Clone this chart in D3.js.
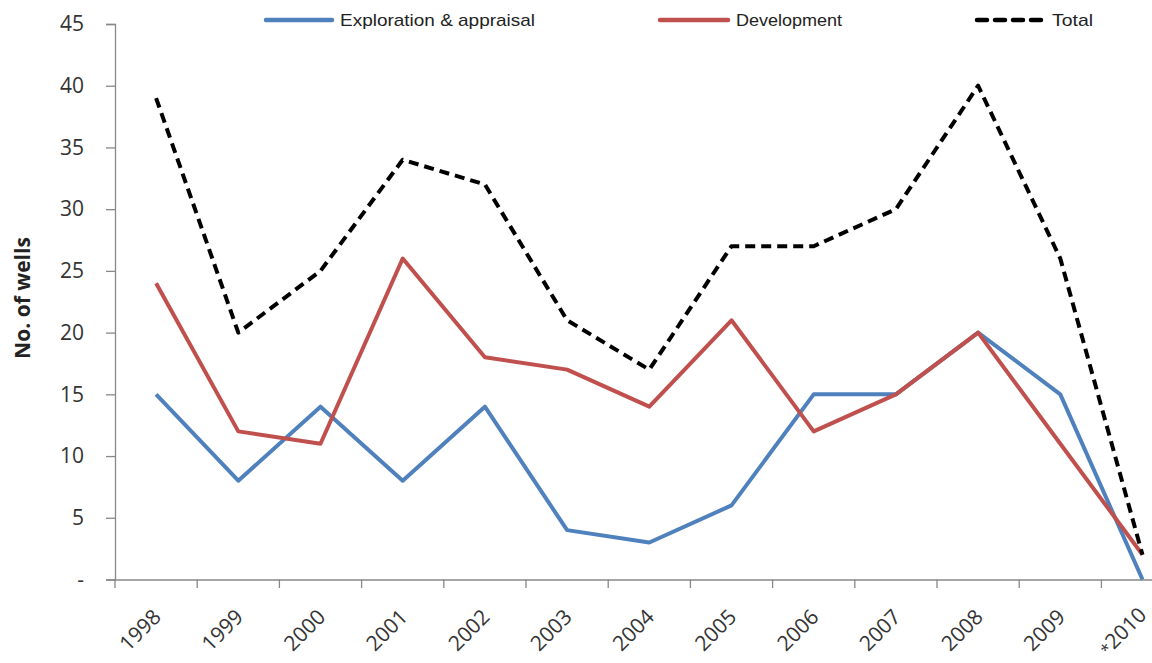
<!DOCTYPE html>
<html><head><meta charset="utf-8">
<script src="https://cdn.jsdelivr.net/npm/d3@7"></script>
<style>body{margin:0;background:#fff}svg{display:block}</style>
</head><body>
<script>
const years = ["1998","1999","2000","2001","2002","2003","2004","2005","2006","2007","2008","2009","*2010"];
const exploration = [15,8,14,8,14,4,3,6,15,15,20,15,0];
const development = [24,12,11,26,18,17,14,21,12,15,20,11,2];
const total = [39,20,25,34,32,21,17,27,27,30,40,26,2];
const yTicks = [0,5,10,15,20,25,30,35,40,45];
const seriesNames = ["Exploration & appraisal","Development","Total"];

const W = 1152, H = 663;
const svg = d3.select("body").append("svg").attr("width", W).attr("height", H);
const x = d3.scaleBand().domain(years).range([115, 115 + 82.2*13]);
const y = d3.scaleLinear().domain([0,45]).range([579.5, 24]);
const font = "'Open Sans', 'Liberation Sans', sans-serif";

// y axis
const ya = svg.append("g").attr("transform","translate(115,0)")
  .call(d3.axisLeft(y).tickValues(yTicks).tickSize(9).tickPadding(22)
    .tickFormat(d => d === 0 ? "-" : d));
ya.select(".domain").attr("stroke","#888").attr("stroke-width",1.3);
ya.selectAll(".tick line").attr("stroke","#888").attr("stroke-width",1.3);
ya.selectAll(".tick text").attr("font-family",font).attr("font-size",21).attr("fill","#333");

// x axis
const xa = svg.append("g").attr("transform","translate(0,579.5)")
  .call(d3.axisBottom(x).tickSize(0).tickFormat(""));
xa.select(".domain").attr("stroke","#888").attr("stroke-width",1.6);
// category boundary ticks
svg.append("g").selectAll("line").data(years).join("line")
  .attr("x1", d => x(d)).attr("x2", d => x(d))
  .attr("y1", 579.5).attr("y2", 588).attr("stroke","#888").attr("stroke-width",1.3);
const xl = svg.append("g").selectAll("text").data(years).join("text")
  .attr("transform", d => `translate(${x(d)+x.bandwidth()/2+(d.startsWith("*")?0:1)},${d.startsWith("*")?611:613}) rotate(-45)`)
  .attr("text-anchor","end").attr("dy","0.35em")
  .attr("font-family",font).attr("font-size",21).attr("fill","#333");
xl.each(function(d){
  const t = d3.select(this);
  if (d.startsWith("*")) {
    t.append("tspan").attr("font-size",16).text("*");
    t.append("tspan").text(d.slice(1));
  } else t.text(d);
});

// y title
svg.append("text").attr("transform","translate(30,298) rotate(-90)")
  .attr("text-anchor","middle").attr("font-family",font).attr("font-weight","bold")
  .attr("font-size",21).attr("fill","#222").text("No. of wells");

const line = d3.line().x((d,i) => x(years[i]) + x.bandwidth()/2).y(d => y(d));
const colors = ["#4F81BD","#C0504D","#000"];
const data = [exploration, development, total];
data.forEach((s,k) => {
  svg.append("path").datum(s).attr("d", line).attr("fill","none")
    .attr("stroke", colors[k]).attr("stroke-width", 4)
    .attr("stroke-linejoin","round")
    .attr("stroke-dasharray", k===2 ? "10,6" : null);
});

// legend
const legX = [264, 658, 975], legLen = [70, 72, 72], legTextW = [195, 106, 41];
const lg = svg.append("g");
seriesNames.forEach((n,k) => {
  lg.append("line").attr("x1",legX[k]+2).attr("x2",legX[k]+legLen[k]-2).attr("y1",20).attr("y2",20)
    .attr("stroke",colors[k]).attr("stroke-width",4.5).attr("stroke-linecap","round")
    .attr("stroke-dasharray", k===2 ? "10,8" : null);
  lg.append("text").attr("x",legX[k]+legLen[k]+(k===2?5:6)).attr("y",20).attr("dy","0.35em")
    .attr("font-family","'Liberation Sans', sans-serif").attr("font-size",17).attr("fill","#222")
    .attr("textLength", legTextW[k]).attr("lengthAdjust","spacingAndGlyphs")
    .text(n);
});
</script>
</body></html>
